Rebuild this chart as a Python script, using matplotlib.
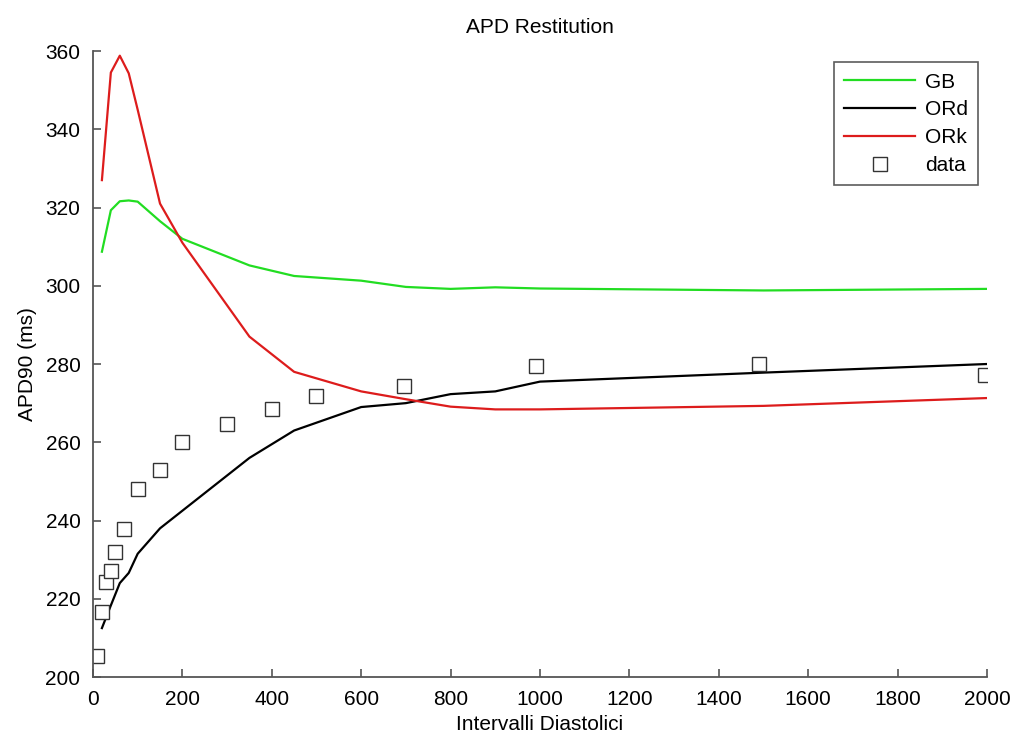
import matplotlib
matplotlib.use("Agg")
import matplotlib.pyplot as plt

plt.rcParams['font.family'] = ['Liberation Sans', 'DejaVu Sans']

# intervalli diastolici simulati (ms)
di_sim = [20, 40, 60, 80, 100, 150, 200, 350, 450, 600, 700, 800, 900, 1000, 1500, 2000]
apd_gb = [308.7, 319.3, 321.6, 321.8, 321.5, 316.5, 312.0, 305.2, 302.5, 301.3,
          299.7, 299.2, 299.6, 299.3, 298.8, 299.2]
apd_ord = [212.5, 218.3, 224.0, 226.6, 231.5, 238.0, 242.5, 256.0, 263.0, 269.0,
           270.0, 272.3, 273.0, 275.5, 277.8, 280.0]
apd_ork = [327.0, 354.5, 358.8, 354.3, 345.0, 321.0, 311.0, 287.0, 278.0, 273.0,
           271.0, 269.1, 268.4, 268.4, 269.3, 271.3]

# dati sperimentali
di_data = [10, 20, 30, 40, 50, 70, 100, 150, 200, 300, 400, 500, 695, 990, 1490, 1995]
apd_data = [205.3, 216.5, 224.4, 227.2, 232.0, 237.8, 248.0, 252.9, 260.1, 264.6,
            268.5, 271.9, 274.4, 279.5, 280.0, 277.3]

fig = plt.figure(figsize=(10.15, 7.35), dpi=100)
ax = fig.add_axes([0.0916, 0.0789, 0.8808, 0.8517])

ax.plot(di_sim, apd_gb, color='#22dd22', lw=1.6, label='GB')
ax.plot(di_sim, apd_ord, color='black', lw=1.6, label='ORd')
ax.plot(di_sim, apd_ork, color='#dd1c1c', lw=1.6, label='ORk')
ax.plot(di_data, apd_data, ls='none', marker='s', ms=9.5, mfc='white',
        mec='#333333', mew=1.0, label='data')

ax.set_xlim(0, 2000)
ax.set_ylim(200, 360)
ax.set_xticks(range(0, 2001, 200))
ax.set_yticks(range(200, 361, 20))

fs = 15
ax.set_title('APD Restitution', fontsize=fs, pad=13)
ax.set_xlabel('Intervalli Diastolici', fontsize=fs, labelpad=5)
ax.set_ylabel('APD90 (ms)', fontsize=fs, labelpad=6)

for s in ['top', 'right']:
    ax.spines[s].set_visible(False)
for s in ['left', 'bottom']:
    ax.spines[s].set_color('#555555')
    ax.spines[s].set_linewidth(1.3)
ax.tick_params(direction='in', length=6, width=1.2, color='#555555',
               labelsize=fs, pad=9)

leg = ax.legend(loc='upper right', bbox_to_anchor=(0.990, 0.982), fontsize=fs,
                frameon=True, fancybox=False, edgecolor='#333333',
                borderpad=0.5, handlelength=3.4, handletextpad=0.45,
                labelspacing=0.42, borderaxespad=0)
leg.get_frame().set_linewidth(1.2)

fig.savefig('out.png', dpi=100)
